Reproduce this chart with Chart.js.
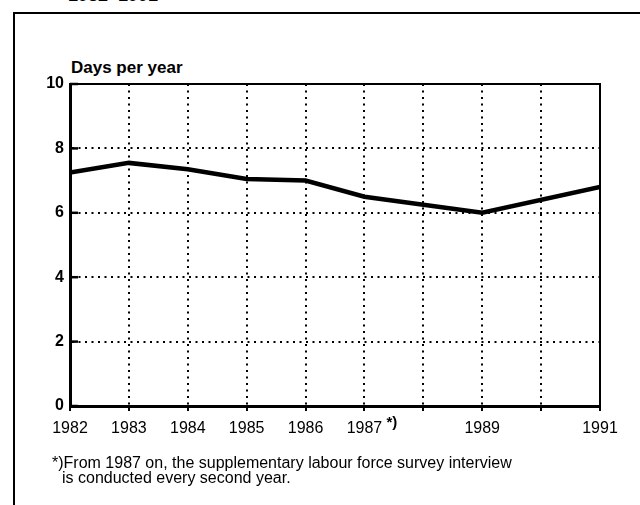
<!DOCTYPE html>
<html>
<head>
<meta charset="utf-8">
<script src="https://cdn.jsdelivr.net/npm/chart.js@4/dist/chart.umd.min.js"></script>
<style>
  body { margin: 0; background: #fff; font-family: "Liberation Sans", Arial, sans-serif; color: #000; }
  #wrap { position: relative; width: 640px; height: 505px; overflow: hidden; }
  #chart { position: absolute; left: 0; top: 0; }
  .frame { position: absolute; left: 13px; top: 12px; width: 700px; height: 600px; border-left: 2px solid #000; border-top: 2px solid #000; }
  .txt { position: absolute; white-space: nowrap; }
  .title { left: 68px; top: -14px; font-size: 18px; line-height: 18px; font-weight: bold; }
  .unit { left: 71px; top: 59px; font-size: 17px; line-height: 17px; font-weight: bold; }
  .note { font-size: 16px; line-height: 15px; }
</style>
</head>
<body>
<div id="wrap">
  <div class="frame"></div>
  <div class="txt title">1982–1991</div>
  <div class="txt unit">Days per year</div>
  <canvas id="chart" width="640" height="505"></canvas>
  <div class="txt note" style="left:52px;top:455px">*)From 1987 on, the supplementary labour force survey interview</div>
  <div class="txt note" style="left:62px;top:470px">is conducted every second year.</div>
</div>
<script>
// sick days per year, survey years only (1988 and 1990 not surveyed)
const years = [1982, 1983, 1984, 1985, 1986, 1987, 1989, 1991];
const days = [7.25, 7.55, 7.35, 7.05, 7.0, 6.5, 6.0, 6.8];
const tickLabels = ['1982', '1983', '1984', '1985', '1986', '1987', '', '1989', '', '1991'];
const firstYear = 1982;
const lastYear = 1991;

const frame = {
  id: 'frame',
  afterDraw(chart) {
    const { ctx, chartArea: a } = chart;
    const y = chart.scales.y;
    const x = chart.scales.x;
    ctx.save();
    ctx.strokeStyle = '#000';
    ctx.lineWidth = 2;
    ctx.strokeRect(a.left, a.top, a.right - a.left, a.bottom - a.top);
    // short inward ticks on the value axis
    ctx.lineWidth = 2.5;
    y.ticks.forEach(t => {
      const py = y.getPixelForValue(t.value);
      ctx.beginPath();
      ctx.moveTo(a.left, py);
      ctx.lineTo(a.left + 8, py);
      ctx.stroke();
    });
    // footnote mark next to 1987
    ctx.fillStyle = '#000';
    ctx.font = 'bold 15px "Liberation Sans", Arial, sans-serif';
    ctx.textBaseline = 'alphabetic';
    ctx.fillText('*)', x.getPixelForValue(1987) + 22, a.bottom + 21);
    ctx.restore();
  }
};

new Chart(document.getElementById('chart'), {
  type: 'line',
  data: {
    datasets: [{
      data: years.map((yr, i) => ({ x: yr, y: days[i] })),
      borderColor: '#000',
      borderWidth: 4.5,
      pointRadius: 0,
      tension: 0,
      fill: false,
    }],
  },
  options: {
    responsive: false,
    animation: false,
    layout: { padding: { top: 84, right: 40, left: 0, bottom: 0 } },
    plugins: { legend: { display: false }, tooltip: { enabled: false } },
    scales: {
      x: {
        type: 'linear',
        min: firstYear,
        max: lastYear,
        afterFit(s) { s.height = 99; },
        border: { color: '#000', width: 3, dash: [2, 4.5] },
        grid: { color: '#000', lineWidth: 2, tickLength: 5, tickWidth: 2, tickColor: '#000' },
        ticks: {
          stepSize: 1,
          autoSkip: false,
          maxRotation: 0,
          padding: 8,
          color: '#000',
          font: { family: '"Liberation Sans", Arial, sans-serif', size: 16 },
          callback: v => tickLabels[v - firstYear],
        },
      },
      y: {
        min: 0,
        max: 10,
        afterFit(s) { s.width = 70; },
        border: { color: '#000', width: 3, dash: [2, 4.5] },
        grid: { color: '#000', lineWidth: 2, drawTicks: false },
        ticks: {
          stepSize: 2,
          padding: 6,
          color: '#000',
          font: { family: '"Liberation Sans", Arial, sans-serif', size: 16, weight: 'bold' },
        },
      },
    },
  },
  plugins: [frame],
});
</script>
</body>
</html>
